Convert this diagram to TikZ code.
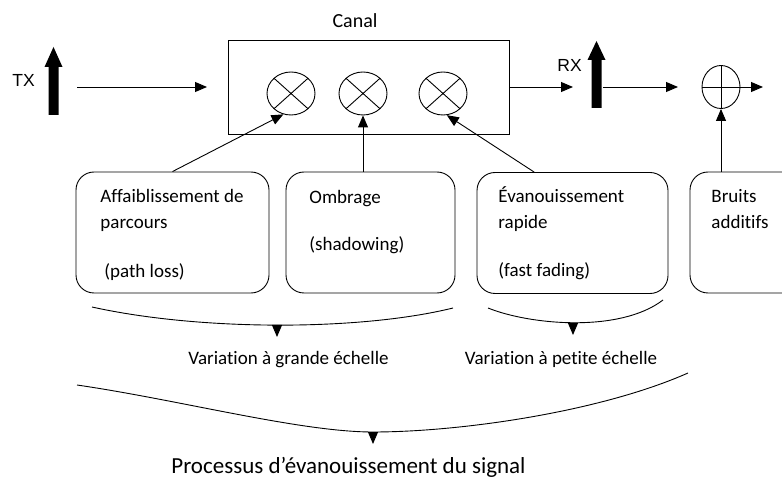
\documentclass[tikz,border=0pt]{standalone}
\usepackage{fontspec}
\setmainfont{Carlito}[Ligatures={NoCommon}]
\newfontfamily\arialf{Liberation Sans}
\usetikzlibrary{arrows.meta,shapes.geometric,calc}
\begin{document}
\begin{tikzpicture}[x=1pt,y=-1pt,line width=0.9pt,
  arr/.style={-{Triangle[length=12pt,width=10pt]}},
  mult/.style={draw,ellipse,minimum width=48pt,minimum height=43pt,inner sep=0pt,
    path picture={\draw (path picture bounding box.north west) -- (path picture bounding box.south east)
      (path picture bounding box.south west) -- (path picture bounding box.north east);}},
  addn/.style={draw,ellipse,minimum width=38pt,minimum height=43pt,inner sep=0pt,
    path picture={\draw (path picture bounding box.north) -- (path picture bounding box.south)
      (path picture bounding box.west) -- (path picture bounding box.east);}},
  rbox/.style={draw,rounded corners=18pt,minimum height=121pt,inner sep=0pt},
  lbl/.style={anchor=base west,inner sep=0pt,font=\fontsize{19}{23}\selectfont},
  clbl/.style={anchor=base,inner sep=0pt,font=\fontsize{19}{23}\selectfont},
  bigarrow/.style={fill=black}]
\useasboundingbox (0,0) rectangle (782,478);
\clip (0,0) rectangle (782,478);

% channel
\node[draw,minimum width=281pt,minimum height=94pt,inner sep=0pt] (chan) at (368.5,87) {};
\node[clbl,font=\fontsize{20}{24}\selectfont] (canal) at (355,28) {Canal};
\node[mult] (c1) at (291,93.5) {};
\node[mult] (c2) at (363,93.5) {};
\node[mult] (c3) at (443,93.5) {};

% TX / RX
\node[anchor=base west,inner sep=0pt,font=\arialf\fontsize{17.5}{20}\selectfont] (tx) at (12,87) {TX};
\node[anchor=base west,inner sep=0pt,font=\arialf\fontsize{17.5}{20}\selectfont] (rx) at (557,72) {RX};
\fill[bigarrow] (48.5,115) -- (48.5,67) -- (44.5,67) -- (53.5,47) -- (62.5,67) -- (58.5,67) -- (58.5,115) -- cycle;
\fill[bigarrow] (591.5,108) -- (591.5,60) -- (587.5,60) -- (596.5,41) -- (605.5,60) -- (601.5,60) -- (601.5,108) -- cycle;

% adder
\node[addn] (p) at (721,87) {};

% horizontal connectors
\coordinate (txs) at (77,87);
\coordinate (txe) at (207,87);
\coordinate (rxi) at (573,87);
\coordinate (rxo) at (603,87);
\coordinate (pin) at (678,87);
\coordinate (pout) at (763,87);
\draw[arr] (txs) -- (txe);
\draw[arr] (chan.east) -- (rxi);
\draw[arr] (rxo) -- (pin);
\draw[arr] (p.east) -- (pout);

% boxes
\node[rbox,minimum width=193pt] (b1) at (172.5,232.5) {};
\node[rbox,minimum width=169pt] (b2) at (370.5,232.5) {};
\node[rbox,minimum width=191pt] (b3) at (572.5,233) {};
\node[rbox,minimum width=140pt] (b4) at (760,232.5) {};

\node[lbl] (t1a) at (100,203) {Affaiblissement de};
\node[lbl] (t1b) at (100,229) {parcours};
\node[lbl] (t1c) at (104,278) {(path loss)};
\node[lbl] (t2a) at (309,204) {Ombrage};
\node[lbl] (t2b) at (309,251) {(shadowing)};
\node[lbl] (t3a) at (498,203) {Évanouissement};
\node[lbl] (t3b) at (498,229) {rapide};
\node[lbl] (t3c) at (498,277) {(fast fading)};
\node[lbl] (t4a) at (711,203) {Bruits};
\node[lbl] (t4b) at (711,229) {additifs};

% box to channel connectors
\draw[arr] (b1.north) -- (c1.250);
\draw[arr] (c2.south |- b2.north) -- (c2.south);
\draw[arr] ($(b3.north west)!0.3!(b3.north east)$) -- (c3.280);
\draw[arr] (p.south |- b4.north) -- (p.south);

% braces
\coordinate (m1) at (277,325);
\coordinate (a1) at (277,337);
\coordinate (m2) at (573,323);
\coordinate (a2) at (573,335);
\coordinate (m3) at (373,432);
\coordinate (a3) at (373,444);
\draw (92,307) .. controls (200,331) and (360,331) .. (453,308);
\draw (488,308) .. controls (530,325) and (620,333) .. (663,300);
\draw (77,385) .. controls (180,400) and (300,432) .. (m3) .. controls (460,432) and (600,412) .. (688,373);
\draw[arr] (m1) -- (a1);
\draw[arr] (m2) -- (a2);
\draw[arr] (m3) -- (a3);

\node[clbl] (v1) at (288.5,365) {Variation à grande échelle};
\node[clbl] (v2) at (561,365) {Variation à petite échelle};
\node[clbl,font=\fontsize{23}{27}\selectfont] (proc) at (348.5,473) {Processus d’évanouissement du signal};
\end{tikzpicture}
\end{document}
